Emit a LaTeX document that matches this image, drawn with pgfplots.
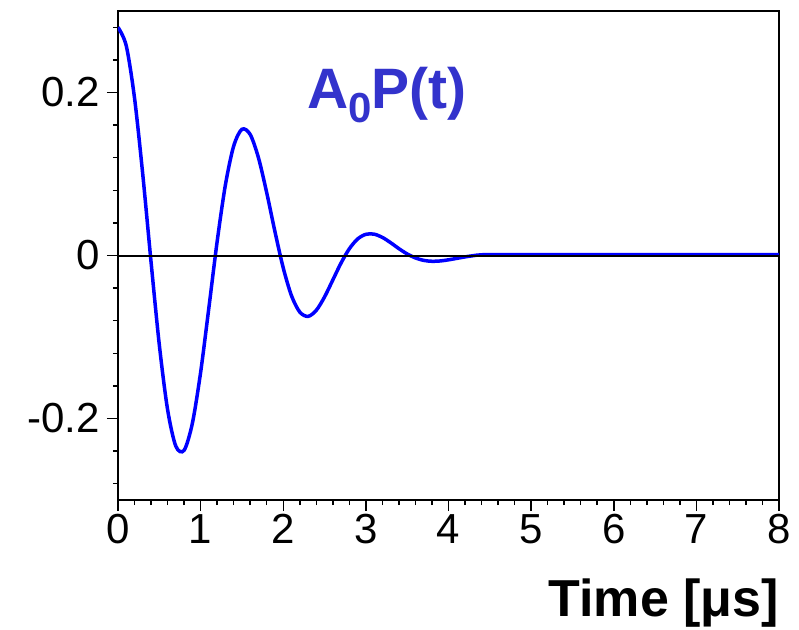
\documentclass[border=0pt]{standalone}
\usepackage{pgfplots}
\pgfplotsset{compat=1.18}
\usepackage{fontspec}
\setmainfont{Liberation Sans}
\definecolor{curveblue}{RGB}{0,0,255}
\definecolor{titleblue}{RGB}{51,51,204}
\begin{document}
\begin{tikzpicture}
\begin{axis}[
  at={(0,0)}, anchor=south west,
  scale only axis, width=661pt, height=489pt,
  xmin=0, xmax=8, ymin=-0.3, ymax=0.3,
  axis line style={line width=2pt},
  xtick={0,1,2,3,4,5,6,7,8},
  xticklabels={0,1,2,3,4,5,6,7,8},
  ytick={-0.2,0,0.2},
  yticklabels={-0.2,0,0.2},
  minor x tick num=4,
  minor ytick={-0.28,-0.24,-0.16,-0.12,-0.08,-0.04,0.04,0.08,0.12,0.16,0.24,0.28},
  tick align=outside, tickpos=left,
  major tick length=11pt, minor tick length=5pt,
  tick style={black, line width=1.5pt},
  ticklabel style={font=\fontsize{42}{42}\selectfont},
  yticklabel style={xshift=-4pt},
]
\addplot[curveblue, line width=3.5pt, smooth] coordinates {
(0.0,0.2800) (0.1,0.2573) (0.2,0.1932) (0.3,0.0992) (0.4,-0.0079)
(0.5,-0.1096) (0.6,-0.1890) (0.7,-0.2340) (0.8,-0.2390) (0.9,-0.2059)
(1.0,-0.1433) (1.1,-0.0640) (1.2,0.0172) (1.3,0.0867) (1.4,0.1343)
(1.5,0.1549) (1.6,0.1485) (1.7,0.1199) (1.8,0.0770) (1.9,0.0291)
(2.0,-0.0153) (2.1,-0.0494) (2.2,-0.0694) (2.3,-0.0747) (2.4,-0.0672)
(2.5,-0.0508) (2.6,-0.0300) (2.7,-0.0091) (2.8,0.0083) (2.9,0.0203)
(3.0,0.0260) (3.1,0.0262) (3.2,0.0222) (3.3,0.0157) (3.4,0.0084)
(3.5,0.0019) (3.6,-0.0030) (3.7,-0.0060) (3.8,-0.0071) (3.9,-0.0067)
(4.0,-0.0053) (4.1,-0.0035) (4.2,-0.0017) (4.3,-0.0002) (4.4,0.0009)
(4.6,0.0010) (5.0,0.0010) (6.0,0.0010) (7.0,0.0010) (8.0,0.0010)
};
\addplot[black, line width=2pt] coordinates {(0,0) (8,0)};
\end{axis}
\node[anchor=base west, inner sep=0, text=titleblue,
      font=\fontsize{57}{57}\selectfont\bfseries] at (189pt,391pt)
      {A\raisebox{-14pt}{\fontsize{42}{42}\selectfont 0}P(t)};
\node[anchor=base east, inner sep=0, font=\fontsize{52}{52}\selectfont\bfseries]
      at (661pt,-116pt) {Time [μs]};
\pgfresetboundingbox
\useasboundingbox (-118pt,-129pt) rectangle (681pt,500pt);
\end{tikzpicture}
\end{document}
